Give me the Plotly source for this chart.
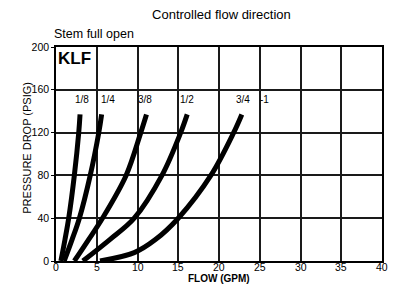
import plotly.graph_objects as go

# Flow (GPM) vs pressure drop (PSIG) for each size
flow_18 = [0.6, 1.1, 1.56, 2.25, 2.79, 2.95]
psi_18 = [0, 20, 40, 80, 120, 137]

flow_14 = [1.0, 1.97, 2.87, 4.2, 5.25, 5.6]
psi_14 = [0, 20, 40, 80, 120, 137]

flow_38 = [2.25, 4.0, 5.7, 8.6, 10.4, 11.1]
psi_38 = [0, 20, 40, 80, 120, 137]

flow_12 = [3.3, 6.6, 9.6, 13.0, 15.3, 16.1]
psi_12 = [0, 20, 40, 80, 120, 137]

flow_34 = [5.4, 9.6, 12.2, 15.0, 19.0, 21.8, 22.8]
psi_34 = [0, 7.8, 20, 40, 80, 120, 137]

series = [
    (flow_18, psi_18),
    (flow_14, psi_14),
    (flow_38, psi_38),
    (flow_12, psi_12),
    (flow_34, psi_34),
]

size_labels = ["1/8", "1/4", "3/8", "1/2", "3/4", "-1"]
label_x = [3.2, 6.4, 10.9, 16.1, 22.9, 25.6]
label_y = 151

x_ticks = [0, 5, 10, 15, 20, 25, 30, 35, 40]
y_ticks = [0, 40, 80, 120, 160, 200]
y_tick_text = ["0", "40", "80", "120", "160", "200"]

FONT = "Liberation Sans, Arial, sans-serif"

fig = go.Figure()
for fx, py in series:
    fig.add_trace(go.Scatter(x=fx, y=py, mode="lines",
                             line=dict(color="black", width=5, shape="spline", smoothing=1.0),
                             showlegend=False, hoverinfo="skip"))

for t, lx in zip(size_labels, label_x):
    fig.add_annotation(x=lx, y=label_y, text=t, showarrow=False,
                       font=dict(family=FONT, size=10, color="black"))

# x tick labels drawn just under the axis (data x, paper y)
for xt in x_ticks:
    fig.add_annotation(x=xt, xref="x", yref="paper", y=-0.0285, text=str(xt), showarrow=False,
                       xanchor="center", yanchor="middle", borderpad=0,
                       font=dict(family=FONT, size=10.5, color="black"))

fig.add_annotation(x=0.0, y=200, text="<b>KLF</b>", showarrow=False, xanchor="left", yanchor="top",
                   font=dict(family=FONT, size=17, color="black"))
fig.add_annotation(xref="paper", yref="paper", x=-0.012, y=1.02, text="Stem full open",
                   showarrow=False, xanchor="left", yanchor="bottom",
                   font=dict(family=FONT, size=12.5, color="black"))
fig.add_annotation(xref="paper", yref="paper", x=0.5, y=-0.1115, text="<b>FLOW (GPM)</b>",
                   showarrow=False, xanchor="center", yanchor="bottom", borderpad=0,
                   font=dict(family=FONT, size=10, color="black"))
fig.add_annotation(xref="paper", yref="paper", x=-0.087, y=0.527, text="PRESSURE DROP (PSIG)",
                   showarrow=False, xanchor="center", yanchor="middle", textangle=-90,
                   font=dict(family=FONT, size=11, color="black"))

fig.update_layout(
    width=388, height=277,
    margin=dict(l=47.5, r=14, t=38.5, b=24, autoexpand=False),
    paper_bgcolor="white", plot_bgcolor="white",
    title=dict(text="Controlled flow direction", x=0.55, xanchor="center", y=0.975, yanchor="middle",
               font=dict(family=FONT, size=13, color="black")),
    font=dict(family=FONT, color="black"),
)
fig.update_xaxes(range=[0, 40], tickvals=x_ticks, showgrid=True, gridcolor="#1a1a1a", gridwidth=1.5,
                 showline=True, linecolor="black", linewidth=1.5, mirror=True, automargin=False,
                 ticks="", showticklabels=False,
                 zeroline=False)
fig.update_yaxes(range=[0, 200], tickvals=y_ticks, ticktext=y_tick_text, showgrid=True,
                 gridcolor="#1a1a1a", gridwidth=1.5, automargin=False,
                 showline=True, linecolor="black", linewidth=1.5, mirror=True,
                 ticks="outside", ticklen=3, tickcolor="black",
                 tickfont=dict(family=FONT, size=10.5, color="black"),
                 zeroline=False)

fig.write_html("out.html")
